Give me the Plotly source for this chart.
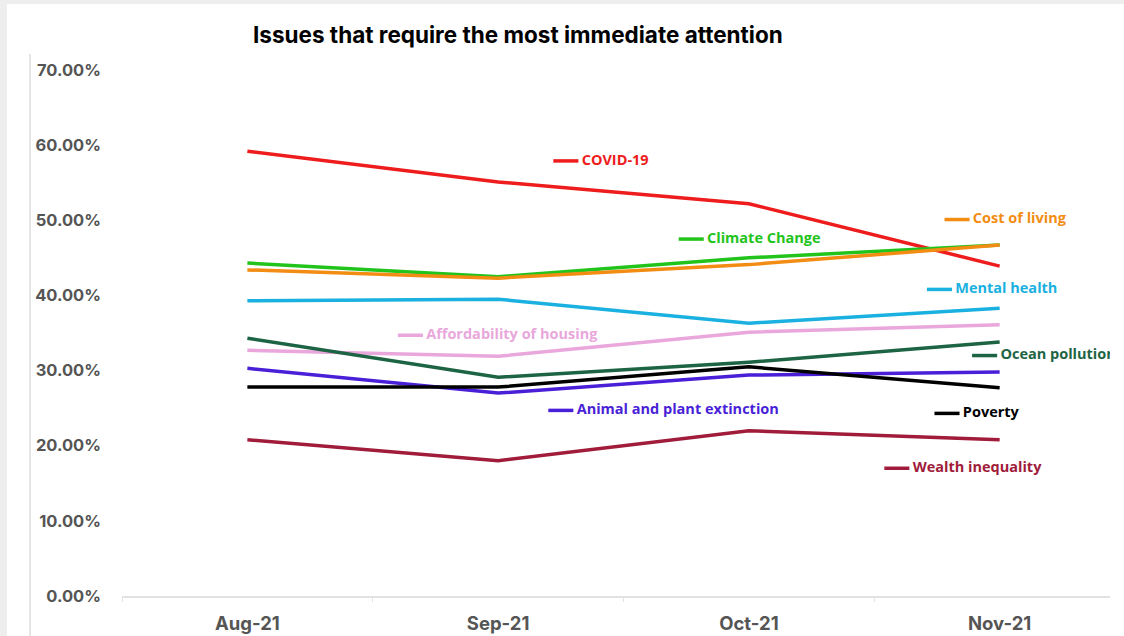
import plotly.graph_objects as go

months = ["Aug-21", "Sep-21", "Oct-21", "Nov-21"]

covid = [59.2, 55.1, 52.2, 43.9]
climate = [44.3, 42.5, 45.0, 46.7]
cost_living = [43.4, 42.3, 44.1, 46.7]
mental = [39.3, 39.5, 36.3, 38.3]
housing = [32.7, 31.9, 35.1, 36.1]
ocean = [34.3, 29.1, 31.1, 33.8]
animal = [30.3, 27.0, 29.4, 29.8]
poverty = [27.8, 27.8, 30.5, 27.7]
wealth = [20.8, 18.0, 22.0, 20.8]

y_ticks = [0, 10, 20, 30, 40, 50, 60, 70]
y_tick_labels = ["0.00%", "10.00%", "20.00%", "30.00%", "40.00%", "50.00%", "60.00%", "70.00%"]

series = [
    ("COVID-19", covid, "#ee1c1c"),
    ("Climate Change", climate, "#22c41c"),
    ("Cost of living", cost_living, "#f28c13"),
    ("Mental health", mental, "#1ab0e0"),
    ("Affordability of housing", housing, "#e9a7dc"),
    ("Ocean pollution", ocean, "#1d6444"),
    ("Animal and plant extinction", animal, "#4a1fd8"),
    ("Poverty", poverty, "#000000"),
    ("Wealth inequality", wealth, "#a01c3a"),
]

# label anchor positions (category index, value) for in-chart labels
label_pos = {
    "COVID-19": (1.22, 57.9),
    "Climate Change": (1.72, 47.5),
    "Cost of living": (2.78, 50.1),
    "Mental health": (2.71, 40.8),
    "Affordability of housing": (0.60, 34.7),
    "Ocean pollution": (2.89, 32.0),
    "Animal and plant extinction": (1.20, 24.7),
    "Poverty": (2.74, 24.3),
    "Wealth inequality": (2.54, 17.0),
}

XR = [-0.5, 3.44]

fig = go.Figure()
for name, vals, color in series:
    fig.add_trace(go.Scatter(x=months, y=vals, mode="lines", name=name,
                             line=dict(color=color, width=3.5), showlegend=False))

shapes = []
for name, vals, color in series:
    lx, ly = label_pos[name]
    shapes.append(dict(type="line", xref="x2", yref="y", x0=lx, x1=lx + 0.1, y0=ly, y1=ly,
                       line=dict(color=color, width=3.5)))
    fig.add_trace(go.Scatter(x=[lx + 0.113], y=[ly], mode="text", text=[name], xaxis="x2",
                             textposition="middle right", cliponaxis=True, showlegend=False,
                             hoverinfo="skip",
                             textfont=dict(family="Open Sans", size=14.5, color=color, weight="bold")))

# card background and left rule
shapes.append(dict(type="rect", xref="paper", yref="paper", layer="below",
                   x0=(7 - 122) / 988, x1=(1124 - 122) / 988, y0=-40 / 526, y1=(596 - 4) / 526,
                   fillcolor="white", line=dict(width=0)))
shapes.append(dict(type="line", xref="paper", yref="paper", layer="below",
                   x0=(30 - 122) / 988, x1=(30 - 122) / 988, y0=-40 / 526, y1=(596 - 54) / 526,
                   line=dict(color="#dddddd", width=1.5)))

fig.update_layout(
    width=1124, height=636,
    margin=dict(l=122, r=14, t=70, b=40, autoexpand=False),
    paper_bgcolor="#eeeeee", plot_bgcolor="rgba(0,0,0,0)",
    title=dict(text="Issues that require the most immediate attention",
               x=253 / 1124, xanchor="left", y=1 - 35 / 636, yanchor="middle",
               font=dict(family="Inter", size=22.5, color="#000000", weight="bold")),
    shapes=shapes,
    xaxis=dict(type="category", range=XR, showgrid=False, showline=True, automargin=False,
               linecolor="#e2e2e2", linewidth=2, ticks="outside", tickson="boundaries",
               ticklen=4, tickcolor="#e2e2e2", zeroline=False, ticklabelstandoff=10,
               tickfont=dict(family="Inter", size=18.5, color="#555555", weight="bold")),
    xaxis2=dict(range=XR, overlaying="x", visible=False, automargin=False),
    yaxis=dict(range=[0, 70], tickvals=y_ticks, ticktext=y_tick_labels, showgrid=False,
               zeroline=False, showline=False, ticklabelstandoff=20, automargin=False,
               tickfont=dict(family="Inter", size=16.5, color="#555555", weight="bold")),
)

fig.write_html("out.html")
